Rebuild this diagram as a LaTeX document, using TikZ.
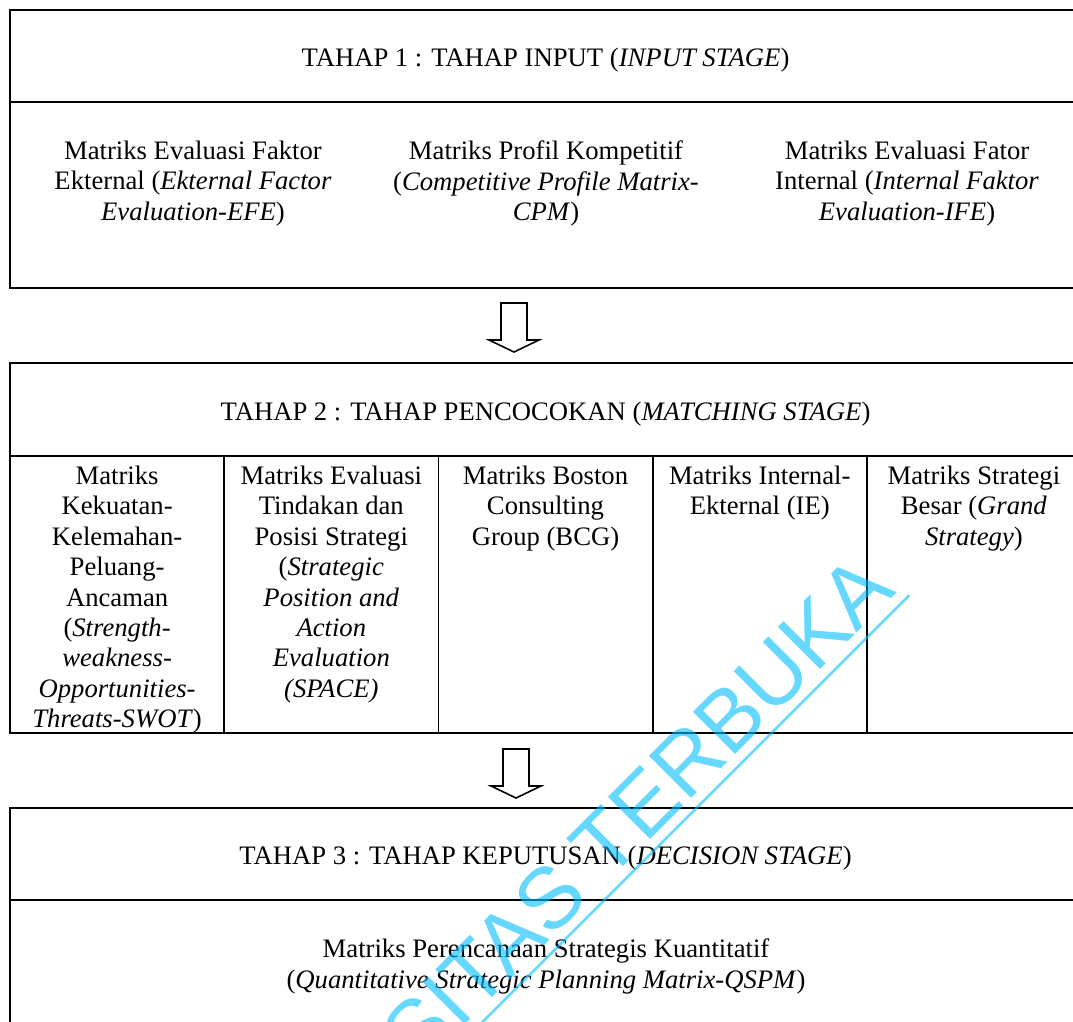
\documentclass[tikz,border=0pt]{standalone}
\usepackage{fontspec}
\setmainfont{Liberation Serif}
\newfontfamily\wmfont{Liberation Sans}
\usepackage{tikz}
\usetikzlibrary{positioning}
\definecolor{wmblue}{RGB}{0,190,255}
\newcommand{\pxu}{0.45pt}

\begin{document}
\begin{tikzpicture}[x=0.45pt, y=-0.45pt, line width=0.8pt,
        box/.style = {draw, inner sep=0pt, outer sep=0pt, anchor=north west, minimum width=1071*\pxu},
        head/.style = {box, txt, text height=9.6pt, text depth=0pt},
        cell/.style = {draw, inner sep=0pt, outer sep=0pt, minimum width=214.2*\pxu, minimum height=277*\pxu},
        txt/.style = {align=center, inner sep=0pt, font=\fontsize{12}{13.7}\selectfont},
        hollow/.style = {draw, line width=0.7pt, line join=miter, fill=white},
        wm/.style = {anchor=base east, rotate=45, inner xsep=0pt, inner ysep=3.8pt, text=wmblue, text opacity=0.6, font=\wmfont\fontsize{39}{39}\selectfont}]
            \useasboundingbox (0,0) rectangle (1073,1021);
            \clip (0,0) rectangle (1073,1021);
            \node[head, minimum height=92*\pxu] (head1) at (10,10) {TAHAP 1 : TAHAP INPUT (\textit{INPUT STAGE})};
            \node[box, minimum height=186*\pxu] (body1) [below=0pt of head1] {};
            \node[txt, anchor=north] (efe) at (193,140) {Matriks Evaluasi Faktor\\Ekternal (\textit{Ekternal Factor}\\\textit{Evaluation-EFE})};
            \node[txt, anchor=north] (cpm) at (546,140) {Matriks Profil Kompetitif\\(\textit{Competitive Profile Matrix-}\\\textit{CPM})};
            \node[txt, anchor=north] (ife) at (907,140) {Matriks Evaluasi Fator\\Internal (\textit{Internal Faktor}\\\textit{Evaluation-IFE})};
            \node[head, minimum height=93*\pxu] (head2) at (10,363) {TAHAP 2 : TAHAP PENCOCOKAN (\textit{MATCHING STAGE})};
            \node[cell, anchor=north west] (c1) at (head2.south west) {};
            \node[cell] (c2) [right=0pt of c1] {};
            \node[cell] (c3) [right=0pt of c2] {};
            \node[cell] (c4) [right=0pt of c3] {};
            \node[cell] (c5) [right=0pt of c4] {};
            \node[txt] (swot) [below=4pt of c1.north] {Matriks\\Kekuatan-\\Kelemahan-\\Peluang-\\Ancaman\\(\textit{Strength-}\\\textit{weakness-}\\\textit{Opportunities-}\\\textit{Threats-SWOT})};
            \node[txt] (space) [below=4pt of c2.north] {Matriks Evaluasi\\Tindakan dan\\Posisi Strategi\\(\textit{Strategic}\\\textit{Position and}\\\textit{Action}\\\textit{Evaluation}\\\textit{(SPACE)}};
            \node[txt] (bcg) [below=4pt of c3.north] {Matriks Boston\\Consulting\\Group (BCG)};
            \node[txt] (ie) [below=4pt of c4.north] {Matriks Internal-\\Ekternal (IE)};
            \node[txt] (grand) [below=4pt of c5.north] {Matriks Strategi\\Besar (\textit{Grand}\\\textit{Strategy})};
            \node[head, minimum height=92*\pxu] (head3) at (10,808) {TAHAP 3 : TAHAP KEPUTUSAN (\textit{DECISION STAGE})};
            \node[box, minimum height=180*\pxu] (body3) [below=0pt of head3] {};
            \node[txt, anchor=north] (qspm) at (546,938) {Matriks Perencanaan Strategis Kuantitatif\\(\textit{Quantitative Strategic Planning Matrix-QSPM})};
            \foreach \x/\y in {501/303, 503/749}
                \draw[hollow] (\x,\y) -- ++(0,37) -- ++(-12,0) -- ++(25,12) -- ++(25,-12) -- ++(-12,0) -- ++(0,-37) -- cycle;
            \node[wm] (wm) at (898,592) {UNIVERSITAS TERBUKA};
            \draw[wmblue, opacity=0.6, line width=1.2pt, shorten >=-2.7pt] (wm.south west) -- (wm.south east);
        \end{tikzpicture}
\end{document}
